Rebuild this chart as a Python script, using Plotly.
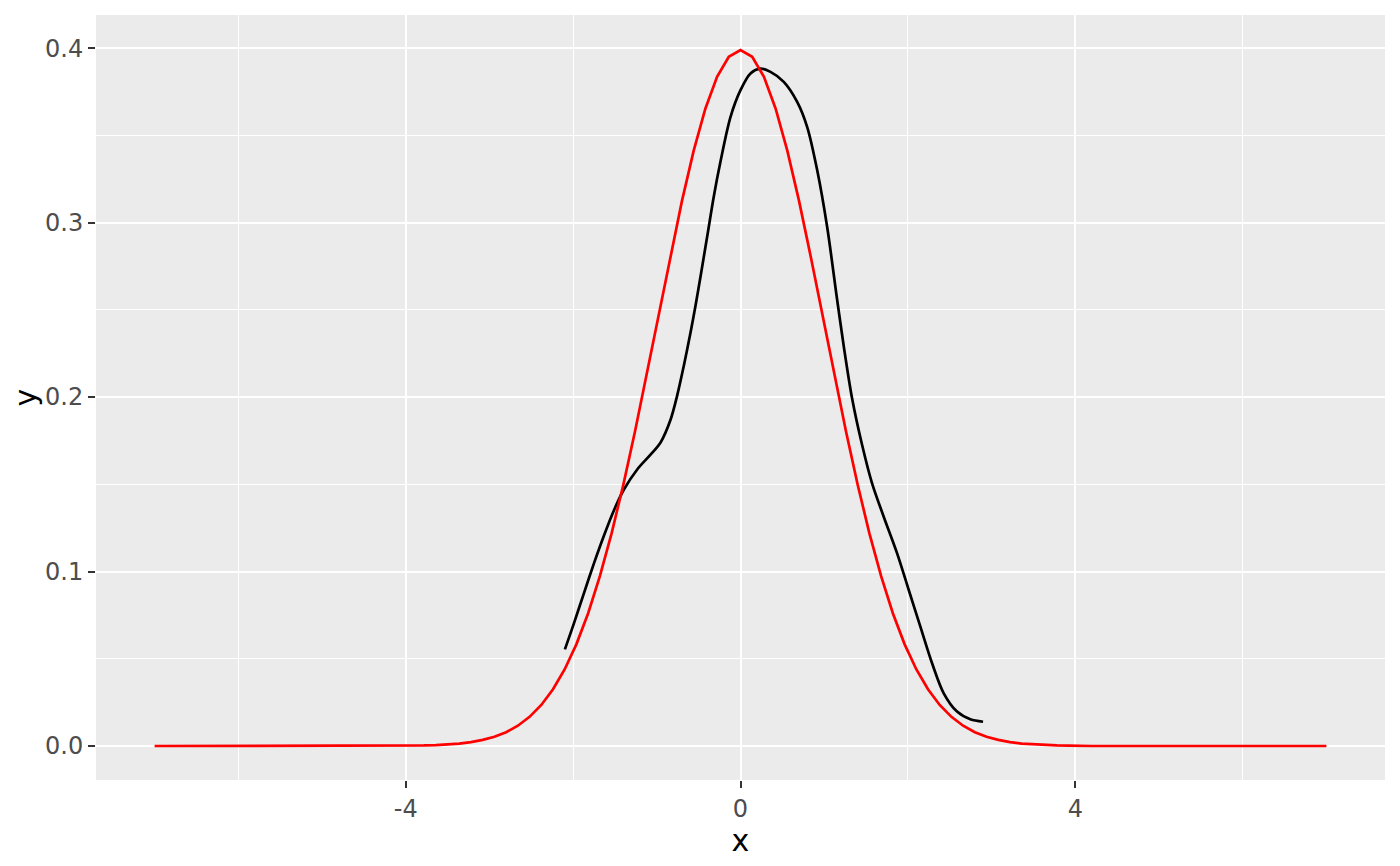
import plotly.graph_objects as go

# red curve: standard normal density
norm_x = [-7.0, -4.2, -4.06, -3.92, -3.78, -3.64, -3.5, -3.36, -3.22, -3.08, -2.94, -2.8,
          -2.66, -2.52, -2.38, -2.24, -2.1, -1.96, -1.82, -1.68, -1.54, -1.4, -1.26,
          -1.12, -0.98, -0.84, -0.7, -0.56, -0.42, -0.28, -0.14, 0.0,
          0.14, 0.28, 0.42, 0.56, 0.7, 0.84, 0.98, 1.12, 1.26, 1.4, 1.54, 1.68, 1.82,
          1.96, 2.1, 2.24, 2.38, 2.52, 2.66, 2.8, 2.94, 3.08, 3.22, 3.36, 3.5, 3.64,
          3.78, 3.92, 4.06, 4.2, 7.0]
norm_y = [0.0, 0.0, 0.0001, 0.0002, 0.0003, 0.0005, 0.0009, 0.0014, 0.0022, 0.0035, 0.0053,
          0.0079, 0.0116, 0.0167, 0.0235, 0.0325, 0.0440, 0.0584, 0.0761, 0.0973, 0.1219,
          0.1497, 0.1804, 0.2131, 0.2468, 0.2803, 0.3123, 0.3411, 0.3653, 0.3836, 0.3951,
          0.3989,
          0.3951, 0.3836, 0.3653, 0.3411, 0.3123, 0.2803, 0.2468, 0.2131, 0.1804, 0.1497,
          0.1219, 0.0973, 0.0761, 0.0584, 0.0440, 0.0325, 0.0235, 0.0167, 0.0116, 0.0079,
          0.0053, 0.0035, 0.0022, 0.0014, 0.0009, 0.0005, 0.0003, 0.0002, 0.0001, 0.0, 0.0]

# black curve: sample density estimate
dens_x = [-2.098, -1.99, -1.871, -1.752, -1.632, -1.513, -1.393, -1.234, -1.075, -0.955,
          -0.836, -0.756, -0.677, -0.597, -0.537, -0.478, -0.398, -0.319, -0.239, -0.119,
          0.0, 0.119, 0.239, 0.358, 0.517, 0.677, 0.796, 0.916, 1.035, 1.155, 1.234, 1.334,
          1.453, 1.572, 1.711, 1.871, 2.01, 2.149, 2.289, 2.428, 2.587, 2.746, 2.898]
dens_y = [0.0554, 0.0703, 0.0875, 0.1045, 0.1205, 0.1350, 0.1470, 0.1585, 0.1670, 0.1740,
          0.1870, 0.2010, 0.2180, 0.2370, 0.2525, 0.2690, 0.2920, 0.3150, 0.3350, 0.3606,
          0.3759, 0.3855, 0.3883, 0.3864, 0.3807, 0.3692, 0.3549, 0.3301, 0.2976, 0.2556,
          0.2290, 0.1990, 0.1725, 0.1505, 0.1314, 0.1104, 0.0894, 0.0684, 0.0474, 0.0302,
          0.0197, 0.0153, 0.0139]

x_ticks = [-4, 0, 4]
x_minor = [-6, -2, 2, 6]
y_ticks = [0.0, 0.1, 0.2, 0.3, 0.4]
y_labels = ["0.0", "0.1", "0.2", "0.3", "0.4"]
y_minor = [0.05, 0.15, 0.25, 0.35]

fig = go.Figure()
fig.add_trace(go.Scatter(x=dens_x, y=dens_y, mode="lines",
                         line=dict(color="black", width=2.7, shape="spline", smoothing=0.9)))
fig.add_trace(go.Scatter(x=norm_x, y=norm_y, mode="lines",
                         line=dict(color="#FF0000", width=2.7)))

# page body has an 8px margin, so the figure is 16px smaller than the window
fig.update_layout(
    width=1384, height=850,
    margin=dict(l=88, r=7, t=7, b=78),
    paper_bgcolor="white",
    plot_bgcolor="#EBEBEB",
    showlegend=False,
    font=dict(family="DejaVu Sans, sans-serif", color="#4D4D4D"),
)
fig.update_xaxes(
    range=[-7.7, 7.7],
    tickvals=x_ticks, ticktext=[str(v) for v in x_ticks],
    ticks="outside", ticklen=7, tickwidth=2.4, tickcolor="#333333",
    tickfont=dict(size=24, color="#4D4D4D"),
    showgrid=True, gridcolor="white", gridwidth=2.4,
    minor=dict(tickvals=x_minor, showgrid=True, gridcolor="white", gridwidth=1.2, ticks=""),
    zeroline=False, showline=False,
    title=dict(text="x", font=dict(size=30, color="black"), standoff=3),
    automargin=False,
)
fig.update_yaxes(
    range=[-0.0195, 0.419],
    tickvals=y_ticks, ticktext=y_labels,
    ticks="outside", ticklen=7, tickwidth=2.4, tickcolor="#333333",
    tickfont=dict(size=24, color="#4D4D4D"),
    showgrid=True, gridcolor="white", gridwidth=2.4,
    minor=dict(tickvals=y_minor, showgrid=True, gridcolor="white", gridwidth=1.2, ticks=""),
    zeroline=False, showline=False,
    title=dict(text="y", font=dict(size=30, color="black"), standoff=2),
    automargin=False,
)

fig.write_html("out.html")
